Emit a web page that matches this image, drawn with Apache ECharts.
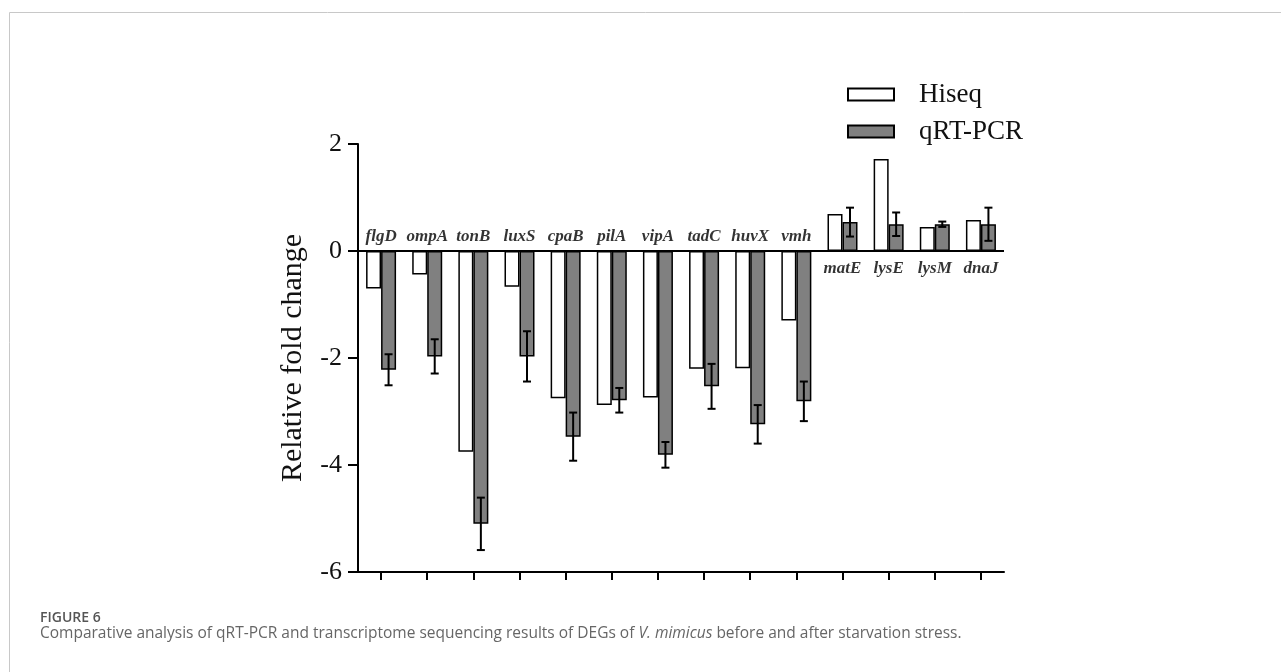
<!DOCTYPE html>
<html>
<head>
<meta charset="utf-8">
<script src="https://cdn.jsdelivr.net/npm/echarts@6/dist/echarts.min.js"></script>
<style>
html,body{margin:0;padding:0;background:#fff;}
#c{width:1281px;height:672px;}
</style>
</head>
<body>
<div id="c"></div>
<script>
const genes = ['flgD','ompA','tonB','luxS','cpaB','pilA','vipA','tadC','huvX','vmh','matE','lysE','lysM','dnaJ'];
const hiseq = [-0.70,-0.44,-3.75,-0.67,-2.75,-2.88,-2.74,-2.20,-2.19,-1.30,0.69,1.72,0.45,0.58];
const qpcr  = [-2.22,-1.97,-5.10,-1.97,-3.47,-2.79,-3.81,-2.53,-3.24,-2.81,0.54,0.50,0.50,0.50];
const qpcrErr = [0.29,0.32,0.49,0.47,0.45,0.23,0.24,0.42,0.36,0.37,0.27,0.22,0.05,0.31];
const yTicks = [-6,-4,-2,0,2];

const SERIF = '"Liberation Serif","Times New Roman",serif';
const SANS = '"Open Sans","Noto Sans",sans-serif';
const BAR_W = 15;

const chart = echarts.init(document.getElementById('c'), null, {renderer:'canvas'});
chart.setOption({
  animation:false,
  backgroundColor:'#fff',
  grid:{left:358, right:277, top:144, bottom:100, containLabel:false},
  legend:{
    orient:'vertical', left:842, top:76,
    data:['Hiseq','qRT-PCR'],
    itemWidth:46, itemHeight:12, itemGap:10, icon:'rect',
    textStyle:{fontFamily:SERIF, fontSize:27, color:'#111', padding:[0,0,0,20], lineHeight:26}
  },
  xAxis:{
    type:'category', data:genes,
    axisLine:{onZero:false, lineStyle:{color:'#000', width:2}},
    axisTick:{show:true, alignWithLabel:true, interval:0, length:8, lineStyle:{color:'#000', width:2}},
    axisLabel:{show:true, interval:0, formatter:function(){return '';}},
    splitLine:{show:false}
  },
  yAxis:{
    type:'value', min:yTicks[0], max:yTicks[yTicks.length-1], interval:2,
    name:'Relative fold change', nameLocation:'middle', nameGap:50,
    nameTextStyle:{fontFamily:SERIF, fontSize:30, color:'#111'},
    axisLine:{show:true, lineStyle:{color:'#000', width:2}},
    axisTick:{show:true, length:10, lineStyle:{color:'#000', width:2}},
    axisLabel:{fontFamily:SERIF, fontSize:26, color:'#111', margin:16},
    splitLine:{show:false}
  },
  series:[
    {
      name:'Hiseq', type:'bar', data:hiseq, barWidth:BAR_W, barGap:'0%',
      itemStyle:{color:'#fff', borderColor:'#000', borderWidth:1.5},
      markLine:{silent:true, symbol:'none', label:{show:false},
        lineStyle:{color:'#000', width:2, type:'solid'}, data:[{yAxis:0}]}
    },
    {
      name:'qRT-PCR', type:'bar', data:qpcr, barWidth:BAR_W, barGap:'0%',
      itemStyle:{color:'#808080', borderColor:'#000', borderWidth:1.5}
    },
    {
      type:'custom', name:'err', silent:true, z:5,
      data:genes.map((g,i)=>[i, qpcr[i], qpcrErr[i]]),
      renderItem:function(params, api){
        const i = api.value(0), v = api.value(1), e = api.value(2);
        const hi = api.coord([i, v+e]);
        const lo = api.coord([i, v-e]);
        const x = hi[0] + BAR_W/2;
        const cap = 4;
        const st = {stroke:'#000', lineWidth:2};
        return {type:'group', children:[
          {type:'line', shape:{x1:x, y1:hi[1], x2:x, y2:lo[1]}, style:st},
          {type:'line', shape:{x1:x-cap, y1:hi[1], x2:x+cap, y2:hi[1]}, style:st},
          {type:'line', shape:{x1:x-cap, y1:lo[1], x2:x+cap, y2:lo[1]}, style:st}
        ]};
      }
    },
    {
      type:'scatter', name:'genes', silent:true, symbolSize:0, z:6,
      data:genes.map((g,i)=>({
        value:[i,0],
        label:{show:true, position: qpcr[i] < 0 ? 'top' : 'bottom', distance: qpcr[i] < 0 ? 6 : 9}
      })),
      label:{
        formatter:function(p){ return genes[p.value[0]]; },
        fontFamily:SERIF, fontSize:17, fontStyle:'italic', fontWeight:'bold', color:'#000'
      }
    }
  ],
  graphic:[
    {type:'line', shape:{x1:9.5, y1:12.5, x2:1281, y2:12.5}, style:{stroke:'#c8c8c8', lineWidth:1}},
    {type:'line', shape:{x1:9.5, y1:12.5, x2:9.5, y2:672}, style:{stroke:'#c8c8c8', lineWidth:1}},
    {type:'text', left:40, top:611, style:{text:'FIGURE 6', fontFamily:SANS, fontSize:14, fontWeight:600, fill:'#555'}},
    {type:'text', left:40, top:626, style:{
      text:'{a|Comparative analysis of qRT-PCR and transcriptome sequencing results of DEGs of }{i|V. mimicus}{a| before and after starvation stress.}',
      rich:{
        a:{fontFamily:SANS, fontSize:15.5, fill:'#666'},
        i:{fontFamily:SANS, fontSize:15.5, fontStyle:'italic', fill:'#666'}
      }
    }}
  ]
});
</script>
</body>
</html>
